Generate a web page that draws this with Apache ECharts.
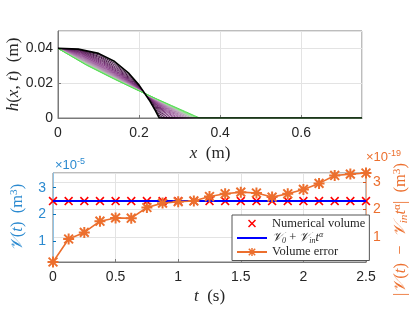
<!DOCTYPE html>
<html><head><meta charset="utf-8">
<script src="https://cdn.jsdelivr.net/npm/echarts@6/dist/echarts.min.js"></script>
<style>html,body{margin:0;padding:0;background:#fff}#c{width:415px;height:312px}</style>
</head><body><div id="c"></div>
<script>
// ---- top panel: film profiles h(x,t), one per output time (black = first, green = last)
const profileX = [
 [0,0.05,0.1,0.1375,0.175,0.2,0.225,0.24,0.25,0.75],
 [0,0.0508,0.1017,0.1398,0.1779,0.2033,0.2288,0.244,0.2542,0.75],
 [0,0.0517,0.1033,0.1421,0.1808,0.2067,0.2325,0.248,0.2583,0.75],
 [0,0.0525,0.105,0.1444,0.1838,0.21,0.2363,0.252,0.2625,0.75],
 [0,0.0533,0.1067,0.1467,0.1867,0.2133,0.24,0.256,0.2667,0.75],
 [0,0.0542,0.1083,0.149,0.1896,0.2167,0.2438,0.26,0.2708,0.75],
 [0,0.055,0.11,0.1513,0.1925,0.22,0.2475,0.264,0.275,0.75],
 [0,0.0558,0.1117,0.1535,0.1954,0.2233,0.2513,0.268,0.2792,0.75],
 [0,0.0567,0.1133,0.1558,0.1983,0.2267,0.255,0.272,0.2833,0.75],
 [0,0.0575,0.115,0.1581,0.2013,0.23,0.2588,0.276,0.2875,0.75],
 [0,0.0583,0.1167,0.1604,0.2042,0.2333,0.2625,0.28,0.2917,0.75],
 [0,0.0592,0.1183,0.1627,0.2071,0.2367,0.2663,0.284,0.2958,0.75],
 [0,0.06,0.12,0.165,0.21,0.24,0.27,0.288,0.30,0.75],
 [0,0.0608,0.1217,0.1673,0.2129,0.2433,0.2738,0.292,0.3042,0.75],
 [0,0.0617,0.1233,0.1696,0.2158,0.2467,0.2775,0.296,0.3083,0.75],
 [0,0.0625,0.125,0.1719,0.2188,0.25,0.2813,0.3,0.3125,0.75],
 [0,0.0633,0.1267,0.1742,0.2217,0.2533,0.285,0.304,0.3167,0.75],
 [0,0.0642,0.1283,0.1765,0.2246,0.2567,0.2888,0.308,0.3208,0.75],
 [0,0.065,0.13,0.1788,0.2275,0.26,0.2925,0.312,0.325,0.75],
 [0,0.0658,0.1317,0.181,0.2304,0.2633,0.2963,0.316,0.3292,0.75],
 [0,0.0667,0.1333,0.1833,0.2333,0.2667,0.30,0.32,0.3333,0.75],
 [0,0.0675,0.135,0.1856,0.2363,0.27,0.3038,0.324,0.3375,0.75],
 [0,0.0683,0.1367,0.1879,0.2392,0.2733,0.3075,0.328,0.3417,0.75],
 [0,0.0692,0.1383,0.1902,0.2421,0.2767,0.3113,0.332,0.3458,0.75],
 [0,0.07,0.14,0.1925,0.245,0.28,0.315,0.336,0.35,0.75]
];
const profileH = [
 [0.04,0.0396,0.0371,0.0328,0.0256,0.0189,0.0104,0.0044,0,0],
 [0.04,0.0394,0.0362,0.0314,0.0240,0.0175,0.0095,0.0040,0,0],
 [0.04,0.0391,0.0353,0.0302,0.0227,0.0163,0.0088,0.0037,0,0],
 [0.04,0.0388,0.0345,0.0290,0.0215,0.0153,0.0081,0.0034,0,0],
 [0.04,0.0384,0.0336,0.0279,0.0204,0.0144,0.0076,0.0031,0,0],
 [0.04,0.0380,0.0328,0.0269,0.0194,0.0136,0.0071,0.0029,0,0],
 [0.04,0.0376,0.0320,0.0259,0.0186,0.0129,0.0067,0.0028,0,0],
 [0.04,0.0372,0.0312,0.0251,0.0178,0.0123,0.0064,0.0026,0,0],
 [0.04,0.0368,0.0304,0.0243,0.0171,0.0118,0.0061,0.0025,0,0],
 [0.04,0.0363,0.0297,0.0235,0.0164,0.0113,0.0058,0.0023,0,0],
 [0.04,0.0359,0.0290,0.0228,0.0158,0.0108,0.0055,0.0022,0,0],
 [0.04,0.0354,0.0284,0.0222,0.0153,0.0104,0.0053,0.0021,0,0],
 [0.04,0.0350,0.0278,0.0215,0.0148,0.0100,0.0051,0.0021,0,0],
 [0.04,0.0346,0.0272,0.0210,0.0143,0.0097,0.0049,0.0020,0,0],
 [0.04,0.0342,0.0266,0.0204,0.0139,0.0094,0.0047,0.0019,0,0],
 [0.04,0.0337,0.0261,0.0199,0.0135,0.0091,0.0046,0.0018,0,0],
 [0.04,0.0333,0.0256,0.0194,0.0131,0.0088,0.0044,0.0018,0,0],
 [0.04,0.0329,0.0251,0.0190,0.0127,0.0085,0.0043,0.0017,0,0],
 [0.04,0.0325,0.0246,0.0186,0.0124,0.0083,0.0042,0.0017,0,0],
 [0.04,0.0321,0.0242,0.0181,0.0121,0.0081,0.0040,0.0016,0,0],
 [0.04,0.0318,0.0237,0.0178,0.0118,0.0079,0.0039,0.0016,0,0],
 [0.04,0.0314,0.0233,0.0174,0.0115,0.0077,0.0038,0.0015,0,0],
 [0.04,0.0310,0.0229,0.0171,0.0113,0.0075,0.0037,0.0015,0,0],
 [0.04,0.0307,0.0226,0.0167,0.0110,0.0073,0.0036,0.0015,0,0],
 [0.04,0.0304,0.0222,0.0164,0.0108,0.0072,0.0036,0.0014,0,0]
];
// ---- bottom panel
const times = [0,0.125,0.25,0.375,0.5,0.625,0.75,0.875,1,1.125,1.25,1.375,1.5,1.625,1.75,1.875,2,2.125,2.25,2.375,2.5];
const numVolume = [2.5,2.5,2.5,2.5,2.5,2.5,2.5,2.5,2.5,2.5,2.5,2.5,2.5,2.5,2.5,2.5,2.5,2.5,2.5,2.5,2.5]; // x1e-5 m^3
const exactVolume = [2.5,2.5,2.5,2.5,2.5,2.5,2.5,2.5,2.5,2.5,2.5,2.5,2.5,2.5,2.5,2.5,2.5,2.5,2.5,2.5,2.5]; // x1e-5 m^3
const volError = [0.08,0.92,1.16,1.57,1.69,1.68,2.07,2.23,2.28,2.31,2.47,2.57,2.63,2.60,2.45,2.57,2.73,2.95,3.24,3.29,3.33]; // x1e-19 m^3

const profileColors = ['#000000','#3a0f3a','#471647','#531c53','#5e235e','#692a69','#733173','#7c387c','#854085','#8d488d',
 '#945194','#9a5a9a','#a064a0','#a56ea5','#aa78aa','#ae82ae','#b28cb2','#b596b5','#b8a0b8','#baaaba',
 '#b3c0b0','#a6d6a2','#90e28c','#76e072','#55dc55'];
const BLUE = '#0072BD', ORANGE = '#D95319', ORANGE_L = '#EC6F2E', BLUE_L = '#2b8ad0';
const TXT = '#262626';
const SERIF = '"Liberation Serif","DejaVu Serif",serif';
const SANS = '"Liberation Sans",Arial,sans-serif';
const GRID = '#e3e3e3';
const XPATH = 'path://M0,1.3L1.3,0L5,3.7L8.7,0L10,1.3L6.3,5L10,8.7L8.7,10L5,6.3L1.3,10L0,8.7L3.7,5Z';
const STAR = 'path://M4.1,0L5.9,0L5.9,10L4.1,10Z M0,4.1L10,4.1L10,5.9L0,5.9Z M1.64,0.36L9.64,8.36L8.36,9.64L0.36,1.64Z M8.36,0.36L9.64,1.64L1.64,9.64L0.36,8.36Z';

const chart = echarts.init(document.getElementById('c'), null, {renderer:'canvas'});

const topSeries = profileX.map((xs,k)=>({
  type:'line', xAxisIndex:0, yAxisIndex:0, showSymbol:false, symbol:'none', silent:true,
  data: xs.map((x,i)=>[x, profileH[k][i]]),
  lineStyle:{color:profileColors[k], width: k===0?1.7:1},
  z: k===0 ? 3 : 2 + k/100
}));

const serifRich = {
  i:{fontFamily:SERIF, fontStyle:'italic', fontSize:17, color:TXT},
  r:{fontFamily:SERIF, fontSize:17, color:TXT}
};
function vRich(color, fs){
  return {
    v:{fontFamily:SERIF, fontStyle:'italic', fontSize:fs, color:color},
    r:{fontFamily:SERIF, fontSize:fs, color:color},
    i:{fontFamily:SERIF, fontStyle:'italic', fontSize:fs, color:color},
    sb:{fontFamily:SERIF, fontStyle:'italic', fontSize:fs*0.68, color:color, padding:[6,0,0,0]},
    sp:{fontFamily:SERIF, fontSize:fs*0.68, color:color, padding:[0,0,7,0]}
  };
}

const option = {
  animation:false,
  backgroundColor:'#fff',
  grid:[
    {left:58, top:31, width:304, height:87, show:true, borderColor:'#7a7a7a', borderWidth:1, backgroundColor:'transparent', containLabel:false, outerBoundsMode:'none'},
    {left:53, top:173, width:313, height:89, show:true, borderColor:'#7a7a7a', borderWidth:1, backgroundColor:'transparent', containLabel:false, outerBoundsMode:'none'}
  ],
  xAxis:[
    {gridIndex:0, type:'value', min:0, max:0.75, interval:0.2,
     axisLine:{show:true, lineStyle:{color:'#7a7a7a'}}, axisTick:{inside:true, length:3, lineStyle:{color:'#7a7a7a'}},
     axisLabel:{showMaxLabel:false, color:TXT, fontFamily:SANS, fontSize:14, margin:8},
     splitLine:{show:true, lineStyle:{color:GRID}},
     name:'{i|x}{r|  (m)}', nameLocation:'middle', nameGap:27, nameTextStyle:{rich:serifRich}},
    {gridIndex:1, type:'value', min:0, max:2.5, interval:0.5,
     axisLine:{show:true, lineStyle:{color:'#7a7a7a'}}, axisTick:{inside:true, length:3, lineStyle:{color:'#7a7a7a'}},
     axisLabel:{color:TXT, fontFamily:SANS, fontSize:14, margin:8},
     splitLine:{show:true, lineStyle:{color:GRID}},
     name:'{i|t}{r|  (s)}', nameLocation:'middle', nameGap:26, nameTextStyle:{rich:serifRich}}
  ],
  yAxis:[
    {gridIndex:0, type:'value', min:0, max:0.05, interval:0.02,
     axisLine:{show:true, lineStyle:{color:'#7a7a7a'}}, axisTick:{inside:true, length:3, lineStyle:{color:'#7a7a7a'}},
     axisLabel:{showMaxLabel:false, color:TXT, fontFamily:SANS, fontSize:14, margin:5},
     splitLine:{show:true, lineStyle:{color:GRID}},
     name:'{i|h}{r|(}{i|x}{r|, }{i|t}{r|)  (m)}', nameLocation:'middle', nameGap:36, nameRotate:90, nameMoveOverlap:false,
     nameTextStyle:{rich:serifRich}},
    {gridIndex:1, type:'value', min:0.22, max:3.55, splitNumber:3, position:'left',
     axisLine:{show:true, lineStyle:{color:'#8fc3e6', width:1}}, axisTick:{inside:true, length:3, lineStyle:{color:BLUE}},
     axisLabel:{showMinLabel:false, showMaxLabel:false, color:BLUE_L, fontFamily:SANS, fontSize:14, margin:7,
       formatter:v=>String(Math.round(v))},
     splitLine:{show:false},
     name:'{v|𝒱}{r|(}{i|t}{r|)  (m}{sp|3}{r|)}', nameLocation:'middle', nameGap:26, nameRotate:90, nameMoveOverlap:false,
     nameTextStyle:{rich:vRich(BLUE_L,16.5)}},
    {gridIndex:1, type:'value', min:0.08, max:3.33, splitNumber:3, position:'right',
     axisLine:{show:true, lineStyle:{color:'#efae8c', width:1}}, axisTick:{inside:true, length:3, lineStyle:{color:ORANGE}},
     axisLabel:{showMinLabel:false, showMaxLabel:false, color:ORANGE_L, fontFamily:SANS, fontSize:14, margin:7,
       formatter:v=>String(Math.round(v))},
     splitLine:{show:true, lineStyle:{color:GRID}},
     name:'{r||}{v|𝒱}{r|(}{i|t}{r|)  −  }{v|𝒱}{sb|in}{i|t}{sp|α}{r||  (m}{sp|3}{r|)}', nameLocation:'middle', nameGap:22, nameRotate:90,
     nameTextStyle:{rich:vRich(ORANGE_L,16.5), padding:[0,0,0,-24]}}
  ],
  legend:{
    left:232, top:215, orient:'vertical', itemGap:1, itemWidth:30, itemHeight:10,
    padding:[2,4,2,4], borderColor:'#555', borderWidth:1, backgroundColor:'#fff',
    data:['Numerical volume', {name:'exact', itemStyle:{opacity:0}}, 'Volume error'],
    textStyle:{fontFamily:SERIF, fontSize:12.5, color:TXT,
      rich:{
        t:{fontFamily:SERIF, fontSize:12.5, color:TXT},
        v:{fontFamily:SERIF, fontStyle:'italic', fontSize:12.5, color:TXT},
        sb:{fontFamily:SERIF, fontStyle:'italic', fontSize:8, color:TXT, padding:[5,0,0,0]},
        sp:{fontFamily:SERIF, fontStyle:'italic', fontSize:8, color:TXT, padding:[0,0,6,0]}
      }},
    formatter:n=> n==='exact' ? '{v|𝒱}{sb|0}{t| + }{v|𝒱}{sb|in}{v|t}{sp|α}' : '{t|'+n+'}'
  },
  series:[
    ...topSeries,
    {name:'Numerical volume', type:'line', xAxisIndex:1, yAxisIndex:1,
     data: times.map((t,i)=>[t,numVolume[i]]),
     lineStyle:{width:0, opacity:0}, symbol:XPATH, symbolSize:9, showSymbol:true,
     itemStyle:{color:'#ff0000'}, z:10},
    {name:'exact', type:'line', xAxisIndex:1, yAxisIndex:1,
     data: times.map((t,i)=>[t,exactVolume[i]]),
     showSymbol:false, symbol:'none', lineStyle:{color:'#0000ff', width:2}, itemStyle:{color:'#0000ff'}, z:11},
    {name:'Volume error', type:'line', xAxisIndex:1, yAxisIndex:2,
     data: times.map((t,i)=>[t,volError[i]]),
     symbol:STAR, symbolSize:11, showSymbol:true,
     lineStyle:{color:ORANGE_L, width:1.6}, itemStyle:{color:ORANGE_L}, z:12}
  ],
  graphic:[
    {type:'text', left:55, top:157, style:{rich:{a:{fontFamily:SANS, fontSize:13, fill:BLUE_L}, s:{fontFamily:SANS, fontSize:9, fill:BLUE_L, padding:[0,0,8,0]}}, text:'{a|×10}{s|-5}'}},
    {type:'text', left:366, top:149, style:{rich:{a:{fontFamily:SANS, fontSize:13, fill:ORANGE_L}, s:{fontFamily:SANS, fontSize:9, fill:ORANGE_L, padding:[0,0,8,0]}}, text:'{a|×10}{s|-19}'}}
  ]
};
chart.setOption(option);
</script></body></html>
